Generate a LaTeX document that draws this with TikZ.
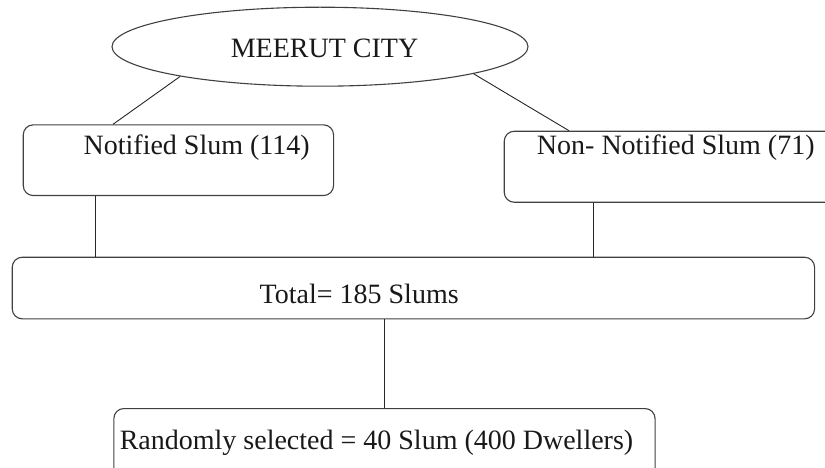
\documentclass[tikz,border=0pt]{standalone}
\usepackage{fontspec}
\setmainfont{Liberation Serif}
\usetikzlibrary{shapes.geometric,calc}
\begin{document}
\begin{tikzpicture}[x=1pt,y=-1pt,
  boxstyle/.style={draw=black!75,line width=1.1pt,rounded corners=10pt,fill=none,inner sep=0pt,anchor=north west},
  ovalstyle/.style={draw=black!75,line width=1.1pt,ellipse,inner sep=0pt},
  labelstyle/.style={anchor=base,inner sep=0pt,font=\fontsize{28}{30}\selectfont,text=black!90},
  linkstyle/.style={draw=black!85,line width=0.9pt}]
\useasboundingbox (0,0) rectangle (825,468);
% shapes
\node[ovalstyle,minimum width=416pt,minimum height=79pt] (meerut) at (320,46.7) {};
\node[boxstyle,minimum width=310.3pt,minimum height=70.7pt] (notified) at (22.7,124.3) {};
\node[boxstyle,minimum width=340pt,minimum height=71pt] (non) at (503.7,130.7) {};
\node[boxstyle,minimum width=802.3pt,minimum height=61.6pt] (total) at (11.7,256.7) {};
\node[boxstyle,minimum width=541.2pt,minimum height=80pt] (random) at (113.3,408) {};
% texts
\node[labelstyle] (tm) at (324.5,58) {MEERUT CITY};
\node[labelstyle] (tn) at (196.7,155) {Notified Slum (114)};
\node[labelstyle] (tnn) at (675.8,155) {Non- Notified Slum (71)};
\node[labelstyle] (tt) at (359.2,303) {Total= 185 Slums};
\node[labelstyle] (tr) at (376.5,449) {Randomly selected = 40 Slum (400 Dwellers)};
% connector points
\coordinate (c1) at ($(notified.south west)+(72.3,0)$);
\coordinate (c2) at ($(non.south west)+(89.3,0)$);
\coordinate (c3) at ($(total.south west)+(373,0)$);
% connectors
\draw[linkstyle] (meerut.192) -- ($(notified.north west)+(90.3,0)$);
\draw[linkstyle] (meerut.350) -- ($(non.north west)+(65.3,0)$);
\draw[linkstyle] (c1) -- (c1 |- total.north);
\draw[linkstyle] (c2) -- (c2 |- total.north);
\draw[linkstyle] (c3) -- (c3 |- random.north);
\end{tikzpicture}
\end{document}
